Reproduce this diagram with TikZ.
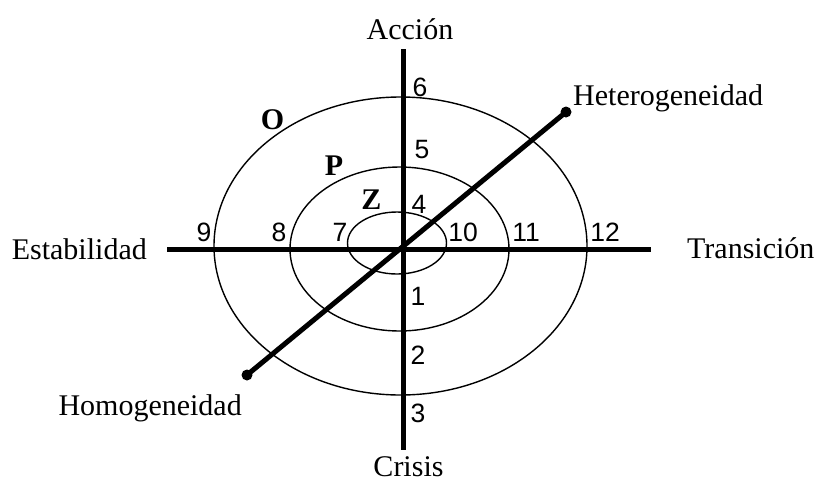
\documentclass[tikz,border=0pt]{standalone}
\usepackage{fontspec}
\setmainfont{Liberation Serif}
\setsansfont{Liberation Sans}

\begin{document}
\begin{tikzpicture}[x=1pt, y=-1pt,
  axis/.style={line width=5pt},
  ring/.style={line width=1.4pt},
  lbl/.style={font=\fontsize{30}{36}\selectfont, inner sep=0pt},
  num/.style={font=\sffamily\fontsize{26.5}{30}\selectfont, inner sep=0pt},
  zone/.style={font=\bfseries\fontsize{30}{36}\selectfont, inner sep=0pt}]
\useasboundingbox (0,0) rectangle (819,483);
% anillos Z, P, O
\draw[ring] (397,243) ellipse [x radius=49.5pt, y radius=31pt];
\draw[ring] (399.5,249) ellipse [x radius=109.5pt, y radius=82pt];
\draw[ring] (400.5,246) ellipse [x radius=186.5pt, y radius=149pt];
% ejes
\coordinate (top) at (403,49);
\coordinate (bot) at (403,450);
\coordinate (west) at (167,249);
\coordinate (east) at (651,249);
\coordinate (homo) at (247,375);
\coordinate (hete) at (566,112);
\draw[axis] (top) -- (bot);
\draw[axis] (west) -- (east);
\draw[axis] (homo) -- (hete);
\fill (homo) circle[radius=5.5pt];
\fill (hete) circle[radius=5.5pt];
\node[lbl, anchor=base] (accion) at (410,39) {Acción};
\node[lbl, anchor=base] (crisis) at (408.5,476) {Crisis};
\node[lbl, anchor=base east] (estab) at (147,259) {Estabilidad};
\node[lbl, anchor=base west] (trans) at (687,258) {Transición};
\node[lbl, anchor=base west] (heter) at (573,105) {Heterogeneidad};
\node[lbl, anchor=base east] (homog) at (242,415) {Homogeneidad};
\foreach \n/\x/\y in {6/420/87, 5/422/150, 4/419/204, 1/418/296, 2/418/355, 3/418/413,
  9/204/232, 8/279/232, 7/340/232, 10/463/232, 11/526/232, 12/605/232}
  \node[num] (n\n) at (\x,\y) {\n};
\node[zone] (o) at (272.5,120) {O};
\node[zone] (p) at (334,166) {P};
\node[zone] (z) at (371.5,200) {Z};
\end{tikzpicture}
\end{document}
